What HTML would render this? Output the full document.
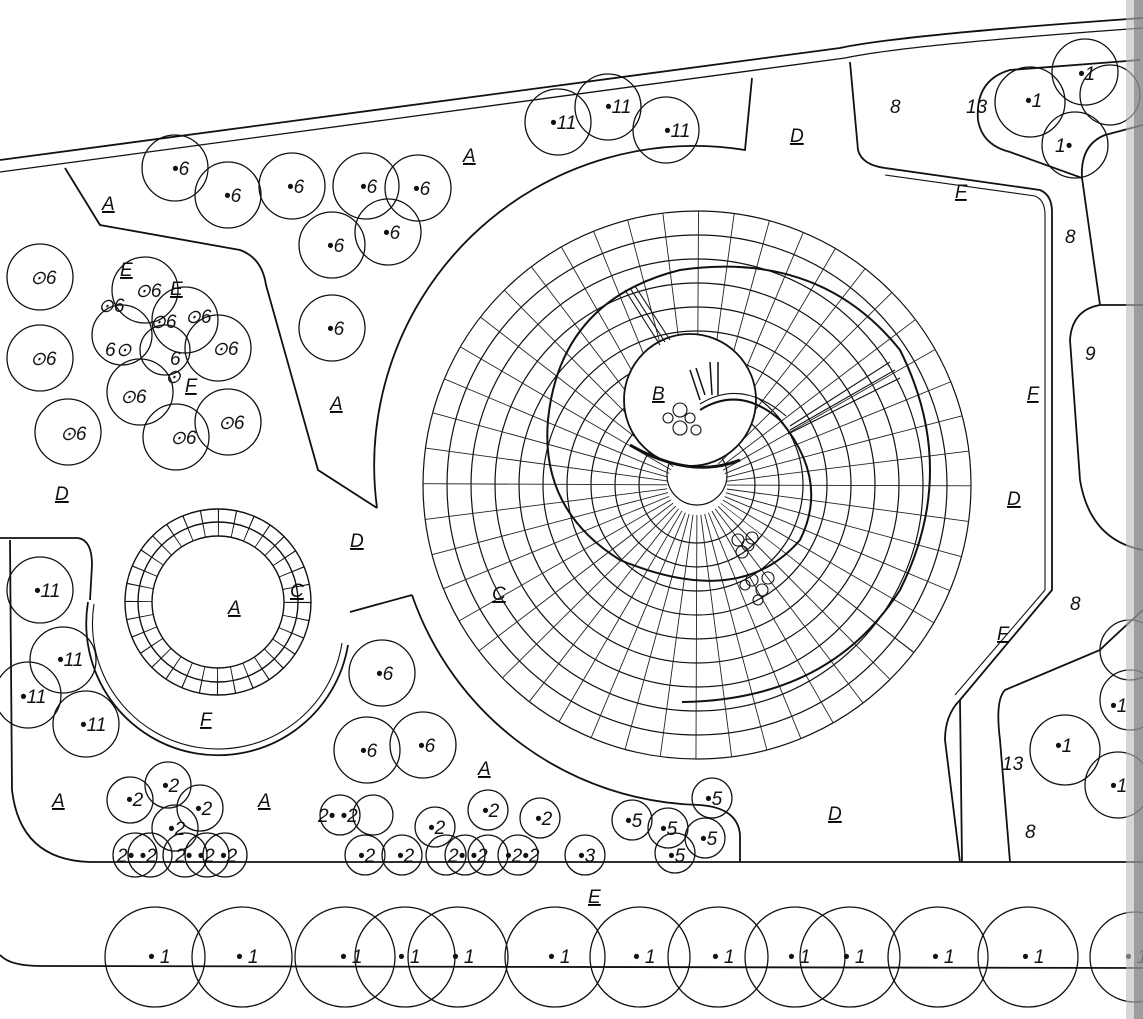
<!DOCTYPE html>
<html><head><meta charset="utf-8"><style>
html,body{margin:0;padding:0;background:#fff}
svg{display:block}
text{font-family:"Liberation Sans",sans-serif;font-style:italic;fill:#111;font-size:19px}
</style></head><body>
<svg width="1143" height="1019" viewBox="0 0 1143 1019" xmlns="http://www.w3.org/2000/svg">
<rect width="1143" height="1019" fill="#fff"/>
<g fill="none" stroke="#111" stroke-width="1.8">
<path d="M0,160 L840,48 Q900,35 1143,18"/>
<path d="M0,172 L845,58 Q905,45 1143,28" stroke-width="1.3"/>
<path d="M65,168 L100,225 L240,250 Q262,258 266,285 L318,470 L377,508"/>
<path d="M377,508 A320,320 0 0 1 745,150 L752,78"/>
<path d="M412,595 A312,312 0 0 0 700,805 Q738,808 740,835 L740,862"/>
<path d="M350,612 L412,595"/>
<path d="M0,538 L78,538 Q92,540 92,565 L90,600"/>
<path d="M10,540 L12,790 Q20,860 90,862 L1143,862"/>
<path d="M0,955 Q10,966 40,966 L1143,968"/>
<path d="M88,602 A130,130 0 0 0 348,645"/>
<path d="M94,604 A124,124 0 0 0 342,643" stroke-width="1.1"/>
<path d="M850,62 L858,150 Q862,165 885,168 L1040,190 Q1052,195 1052,212 L1052,590 L960,700 L962,862"/>
<path d="M885,175 L1035,196 Q1045,200 1045,215 L1045,590 L955,695" stroke-width="1.1"/>
<path d="M1140,60 L1010,70 Q975,80 978,120 Q982,145 1010,152 L1082,178 Q1080,145 1105,135 L1143,125"/>
<path d="M1082,178 L1100,305 L1143,305"/>
<path d="M1100,305 Q1072,310 1070,340 L1080,480 Q1090,540 1143,550"/>
<path d="M1143,610 Q1110,640 1100,650 L1005,690 Q995,700 1000,740 L1010,862"/>
<path d="M960,700 Q945,715 945,740 L960,862"/>
</g>
<g fill="none" stroke="#111" stroke-width="1.2">
<circle cx="697" cy="485" r="274"/>
<circle cx="697" cy="485" r="250"/>
<circle cx="697" cy="485" r="226"/>
<circle cx="697" cy="485" r="202"/>
<circle cx="697" cy="485" r="178"/>
<circle cx="697" cy="485" r="154"/>
<circle cx="697" cy="485" r="130"/>
<circle cx="697" cy="485" r="106"/>
<circle cx="697" cy="485" r="82"/>
<circle cx="697" cy="485" r="58"/>
<circle cx="697" cy="475" r="30"/>
<circle cx="697" cy="485" r="152" stroke-width="244" stroke-dasharray="0.9 19" stroke="#222"/>
</g>
<circle cx="690" cy="400" r="66" fill="#fff" stroke="#111" stroke-width="1.8"/>
<g fill="none" stroke="#111" stroke-width="2">
<path d="M700,410 Q740,385 780,420 Q830,480 800,540 Q740,610 620,560 Q540,510 548,420 Q560,300 680,270 Q820,250 900,350 Q960,470 900,590 Q830,700 682,702"/>
<path d="M700,404 Q742,378 786,416" stroke-width="1.1"/>
<path d="M630,445 Q690,480 740,460" stroke-width="3"/>
<path d="M705,395 L696,368 M712,395 L710,362 M700,400 L690,370 M718,395 L718,362" stroke-width="1.5"/>
<path d="M625,290 L660,345 M630,288 L665,342 M635,286 L670,340 M790,430 L895,370 M790,426 L890,362 M788,434 L900,378" stroke-width="1.1"/>
</g>
<g fill="none" stroke="#111" stroke-width="1.1">
<circle cx="680" cy="410" r="7"/><circle cx="668" cy="418" r="5"/><circle cx="690" cy="418" r="5"/><circle cx="680" cy="428" r="7"/><circle cx="696" cy="430" r="5"/>
<circle cx="738" cy="540" r="6"/><circle cx="748" cy="545" r="6"/><circle cx="742" cy="552" r="6"/><circle cx="752" cy="538" r="6"/>
<circle cx="752" cy="580" r="6"/><circle cx="762" cy="590" r="6"/><circle cx="768" cy="578" r="6"/><circle cx="758" cy="600" r="5"/><circle cx="745" cy="585" r="5"/>
</g>
<g fill="none" stroke="#111" stroke-width="1.4">
<circle cx="218" cy="602" r="93"/><circle cx="218" cy="602" r="80"/><circle cx="218" cy="602" r="66"/>
<circle cx="218" cy="602" r="79.5" stroke-width="27" stroke-dasharray="1 14.6"/>
</g>
<g fill="none" stroke="#111" stroke-width="1.3">
<circle cx="175" cy="168" r="33"/><circle cx="228" cy="195" r="33"/><circle cx="292" cy="186" r="33"/><circle cx="366" cy="186" r="33"/><circle cx="418" cy="188" r="33"/><circle cx="332" cy="245" r="33"/><circle cx="388" cy="232" r="33"/><circle cx="332" cy="328" r="33"/>
<circle cx="558" cy="122" r="33"/><circle cx="608" cy="107" r="33"/><circle cx="666" cy="130" r="33"/>
<circle cx="40" cy="277" r="33"/><circle cx="40" cy="358" r="33"/><circle cx="68" cy="432" r="33"/><circle cx="176" cy="437" r="33"/><circle cx="228" cy="422" r="33"/>
<circle cx="145" cy="290" r="33"/><circle cx="122" cy="335" r="30"/><circle cx="185" cy="320" r="33"/><circle cx="218" cy="348" r="33"/><circle cx="140" cy="392" r="33"/><circle cx="165" cy="350" r="25"/>
<circle cx="40" cy="590" r="33"/><circle cx="63" cy="660" r="33"/><circle cx="28" cy="695" r="33"/><circle cx="86" cy="724" r="33"/>
<circle cx="382" cy="673" r="33"/><circle cx="367" cy="750" r="33"/><circle cx="423" cy="745" r="33"/>
<circle cx="130" cy="800" r="23"/><circle cx="168" cy="785" r="23"/><circle cx="200" cy="808" r="23"/><circle cx="175" cy="828" r="23"/>
<circle cx="135" cy="855" r="22"/><circle cx="150" cy="855" r="22"/><circle cx="185" cy="855" r="22"/><circle cx="207" cy="855" r="22"/><circle cx="225" cy="855" r="22"/>
<circle cx="340" cy="815" r="20"/><circle cx="373" cy="815" r="20"/><circle cx="435" cy="827" r="20"/><circle cx="488" cy="810" r="20"/><circle cx="540" cy="818" r="20"/>
<circle cx="365" cy="855" r="20"/><circle cx="402" cy="855" r="20"/><circle cx="446" cy="855" r="20"/><circle cx="465" cy="855" r="20"/><circle cx="488" cy="855" r="20"/><circle cx="518" cy="855" r="20"/><circle cx="585" cy="855" r="20"/>
<circle cx="632" cy="820" r="20"/><circle cx="668" cy="828" r="20"/><circle cx="712" cy="798" r="20"/><circle cx="705" cy="838" r="20"/><circle cx="675" cy="853" r="20"/>
<circle cx="155" cy="957" r="50"/><circle cx="242" cy="957" r="50"/><circle cx="345" cy="957" r="50"/><circle cx="405" cy="957" r="50"/><circle cx="458" cy="957" r="50"/><circle cx="555" cy="957" r="50"/><circle cx="640" cy="957" r="50"/><circle cx="718" cy="957" r="50"/><circle cx="795" cy="957" r="50"/><circle cx="850" cy="957" r="50"/><circle cx="938" cy="957" r="50"/><circle cx="1028" cy="957" r="50"/><circle cx="1135" cy="957" r="45"/>
<circle cx="1030" cy="102" r="35"/><circle cx="1085" cy="72" r="33"/><circle cx="1075" cy="145" r="33"/><circle cx="1110" cy="95" r="30"/>
<circle cx="1065" cy="750" r="35"/><circle cx="1118" cy="785" r="33"/><circle cx="1130" cy="700" r="30"/><circle cx="1130" cy="650" r="30"/>
</g>
<g>
<text x="172" y="175">•6</text><text x="224" y="202">•6</text><text x="287" y="193">•6</text><text x="360" y="193">•6</text><text x="413" y="195">•6</text><text x="327" y="252">•6</text><text x="383" y="239">•6</text><text x="327" y="335">•6</text>
<text x="550" y="129">•11</text><text x="605" y="113">•11</text><text x="664" y="137">•11</text>
<text x="30" y="284">⊙6</text><text x="30" y="365">⊙6</text><text x="60" y="440">⊙6</text><text x="170" y="444">⊙6</text><text x="218" y="429">⊙6</text>
<text x="135" y="297">⊙6</text><text x="98" y="312">⊙6</text><text x="185" y="323">⊙6</text><text x="212" y="355">⊙6</text><text x="120" y="403">⊙6</text><text x="150" y="328">⊙6</text><text x="105" y="356">6⊙</text><text x="165" y="383">⊙</text><text x="170" y="365">6</text>
<text x="34" y="597">•11</text><text x="57" y="666">•11</text><text x="20" y="703">•11</text><text x="80" y="731">•11</text>
<text x="376" y="680">•6</text><text x="360" y="757">•6</text><text x="418" y="752">•6</text>
<text x="126" y="806">•2</text><text x="162" y="792">•2</text><text x="195" y="815">•2</text><text x="168" y="835">•2</text>
<text x="117" y="862">2• •2</text><text x="175" y="862">2• •2 •2</text>
<text x="318" y="822">2• •2</text><text x="428" y="834">•2</text><text x="482" y="817">•2</text><text x="535" y="825">•2</text>
<text x="358" y="862">•2</text><text x="397" y="862">•2</text><text x="448" y="862">2• •2</text><text x="505" y="862">•2•2</text><text x="578" y="862">•3</text>
<text x="625" y="827">•5</text><text x="660" y="835">•5</text><text x="705" y="805">•5</text><text x="700" y="845">•5</text><text x="668" y="862">•5</text>
<text x="148" y="963">• 1</text><text x="236" y="963">• 1</text><text x="340" y="963">• 1</text><text x="398" y="963">• 1</text><text x="452" y="963">• 1</text><text x="548" y="963">• 1</text><text x="633" y="963">• 1</text><text x="712" y="963">• 1</text><text x="788" y="963">• 1</text><text x="843" y="963">• 1</text><text x="932" y="963">• 1</text><text x="1022" y="963">• 1</text><text x="1125" y="963">• 1</text>
<text x="966" y="113">13</text><text x="1025" y="107">•1</text><text x="1078" y="80">•1</text><text x="1055" y="152">1•</text>
<text x="890" y="113">8</text><text x="1065" y="243">8</text><text x="1085" y="360">9</text><text x="1070" y="610">8</text><text x="1025" y="838">8</text>
<text x="1002" y="770">13</text><text x="1055" y="752">•1</text><text x="1110" y="792">•1</text><text x="1110" y="712">•1</text>
</g>
<g style="text-decoration:underline">
<text x="102" y="210">A</text><text x="463" y="162">A</text><text x="330" y="410">A</text><text x="228" y="614">A</text><text x="52" y="807">A</text><text x="258" y="807">A</text><text x="478" y="775">A</text>
<text x="790" y="142">D</text><text x="55" y="500">D</text><text x="350" y="547">D</text><text x="1007" y="505">D</text><text x="828" y="820">D</text>
<text x="955" y="198">F</text><text x="1027" y="400">F</text><text x="997" y="640">F</text><text x="200" y="726">F</text><text x="185" y="392">F</text><text x="120" y="276">E</text><text x="170" y="295">E</text>
<text x="290" y="597">C</text><text x="492" y="600">C</text><text x="652" y="400">B</text><text x="588" y="903">E</text>
</g>
<rect x="1126" y="0" width="17" height="1019" fill="#bbb" opacity="0.6"/>
<rect x="1134" y="0" width="9" height="1019" fill="#777" opacity="0.6"/>
</svg>
</body></html>
